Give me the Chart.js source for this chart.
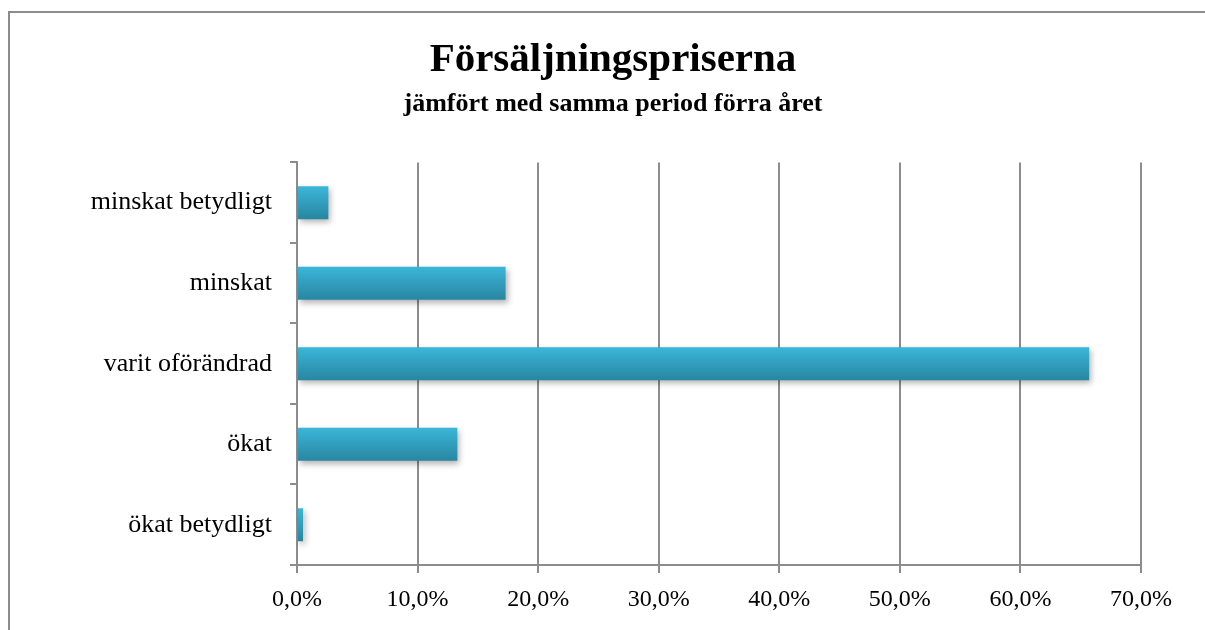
<!DOCTYPE html>
<html>
<head>
<meta charset="utf-8">
<script src="https://cdn.jsdelivr.net/npm/chart.js@4/dist/chart.umd.min.js"></script>
<style>
  html, body { margin: 0; padding: 0; background: #fff; }
  #wrap { width: 1205px; height: 630px; }
</style>
</head>
<body>
<div id="wrap"><canvas id="barChart" width="1205" height="630"></canvas></div>
<script>
// data
var kategorier = ["minskat betydligt", "minskat", "varit oförändrad", "ökat", "ökat betydligt"];
var andelar    = [2.6, 17.3, 65.7, 13.3, 0.5];
var xTicks     = [0, 10, 20, 30, 40, 50, 60, 70];

var grid = "#8c8c8c";
var serif = "'Liberation Serif', 'DejaVu Serif', serif";
var stapelAndel = 0.41;

// grey frame line on the left and top
var ramPlugin = {
    id: "ram",
    beforeDraw: function (chart) {
        var ctx = chart.ctx;
        ctx.save();
        ctx.fillStyle = "#fff";
        ctx.fillRect(0, 0, chart.width, chart.height);
        ctx.strokeStyle = grid;
        ctx.lineWidth = 2;
        ctx.beginPath();
        ctx.moveTo(9, chart.height);
        ctx.lineTo(9, 12);
        ctx.lineTo(chart.width, 12);
        ctx.stroke();
        ctx.restore();
    }
};

// soft shadow under the bars
var skuggaPlugin = {
    id: "skugga",
    beforeDatasetDraw: function (chart) {
        var ctx = chart.ctx;
        ctx.save();
        ctx.shadowColor = "rgba(0,0,0,0.3)";
        ctx.shadowBlur = 6;
        ctx.shadowOffsetX = 2;
        ctx.shadowOffsetY = 3;
    },
    afterDatasetDraw: function (chart) {
        chart.ctx.restore();
    }
};

// vertical gradient per bar, from the y scale
function stapelFarg(c) {
    var chart = c.chart;
    var ys = chart.scales.y;
    if (!ys || c.dataIndex === undefined) return "#31a3c2";
    var mitt = ys.getPixelForValue(c.dataIndex);
    var halv = ys.height / kategorier.length * stapelAndel / 2;
    if (!isFinite(mitt) || !isFinite(halv) || halv <= 0) return "#31a3c2";
    var g = chart.ctx.createLinearGradient(0, mitt - halv, 0, mitt + halv);
    g.addColorStop(0, "#3bb6d9");
    g.addColorStop(1, "#2886a1");
    return g;
}

var ctx = document.getElementById("barChart").getContext("2d");
new Chart(ctx, {
    type: "bar",
    data: {
        labels: kategorier,
        datasets: [{
            data: andelar,
            backgroundColor: stapelFarg,
            borderWidth: 0,
            categoryPercentage: 1,
            barPercentage: stapelAndel
        }]
    },
    options: {
        indexAxis: "y",
        responsive: false,
        animation: false,
        layout: { padding: { top: 12, left: 21, right: 0, bottom: 0 } },
        plugins: {
            legend: { display: false },
            tooltip: { enabled: false },
            title: {
                display: true,
                text: "Försäljningspriserna",
                color: "#000",
                font: { family: serif, size: 41, weight: "bold", lineHeight: 1.2 },
                padding: { top: 24, bottom: 0 }
            },
            subtitle: {
                display: true,
                text: "jämfört med samma period förra året",
                color: "#000",
                font: { family: serif, size: 26, weight: "bold", lineHeight: 1.2 },
                padding: { top: 3, bottom: 43 }
            }
        },
        scales: {
            x: {
                min: 0,
                max: 70,
                afterBuildTicks: function (scale) {
                    scale.ticks = xTicks.map(function (v) { return { value: v }; });
                },
                afterFit: function (scale) {
                    scale.height = 65;
                    scale.paddingRight = 64;
                },
                grid: { color: grid, lineWidth: 2, tickLength: 8, drawTicks: true },
                border: { color: grid, width: 2 },
                ticks: {
                    color: "#000",
                    padding: 12,
                    maxRotation: 0,
                    font: { family: serif, size: 24 },
                    callback: function (v) { return v.toFixed(1).replace(".", ",") + "%"; }
                }
            },
            y: {
                afterFit: function (scale) { scale.width = 276; },
                grid: { color: grid, lineWidth: 2, tickLength: 7, offset: true, drawOnChartArea: false },
                border: { color: grid, width: 2 },
                ticks: {
                    color: "#000",
                    padding: 18,
                    font: { family: serif, size: 26 }
                }
            }
        }
    },
    plugins: [ramPlugin, skuggaPlugin]
});
</script>
</body>
</html>
